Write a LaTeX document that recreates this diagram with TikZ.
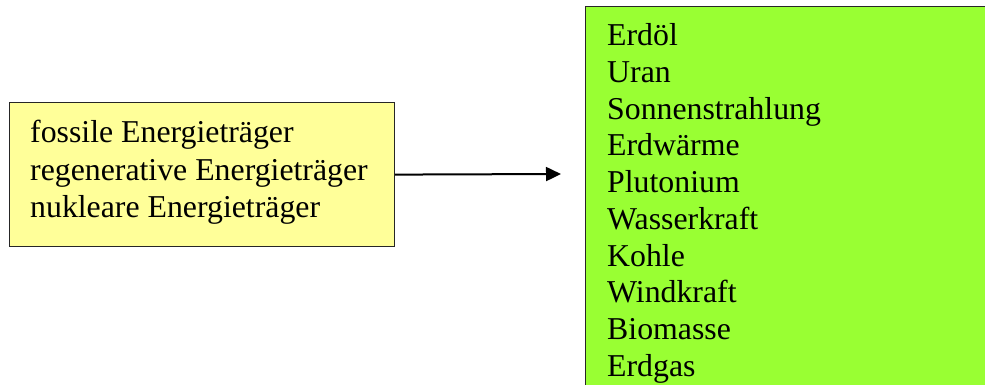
\documentclass[tikz,border=0pt]{standalone}
\usepackage{fontspec}
\setmainfont{Liberation Serif}
\usetikzlibrary{arrows.meta}
\definecolor{boxyellow}{HTML}{FFFF99}
\definecolor{boxgreen}{HTML}{99FF33}
\tikzset{
  box/.style={draw=black!85, line width=1.2pt, inner sep=0pt},
  txt/.style={anchor=base west, inner sep=0pt, font=\fontsize{31.8}{36.5}\selectfont},
  conn/.style={line width=2pt, -{Triangle[length=15pt,width=14pt]}}
}
\begin{document}
\begin{tikzpicture}[x=1pt,y=-1pt]
\useasboundingbox (0,0) rectangle (985,385);
\clip (0,0) rectangle (985,385);
\node[box, fill=boxyellow, minimum width=385pt, minimum height=144pt, anchor=north west] (L) at (9,102) {};
\node[box, fill=boxgreen, minimum width=420pt, minimum height=400pt, anchor=north west] (R) at (585,6) {};
\node[txt] (l1) at (30,142.7) {fossile Energieträger};
\node[txt] (l2) at (30,180.2) {regenerative Energieträger};
\node[txt] (l3) at (30,217.7) {nukleare Energieträger};
\foreach \t [count=\i] in {Erdöl,Uran,Sonnenstrahlung,Erdwärme,Plutonium,Wasserkraft,Kohle,Windkraft,Biomasse,Erdgas}
  \node[txt] (r\i) at (607,{45.7+(\i-1)*36.72}) {\t};
\coordinate (tip) at (561,174);
\draw[conn] (L.east) -- (tip);
\end{tikzpicture}
\end{document}
